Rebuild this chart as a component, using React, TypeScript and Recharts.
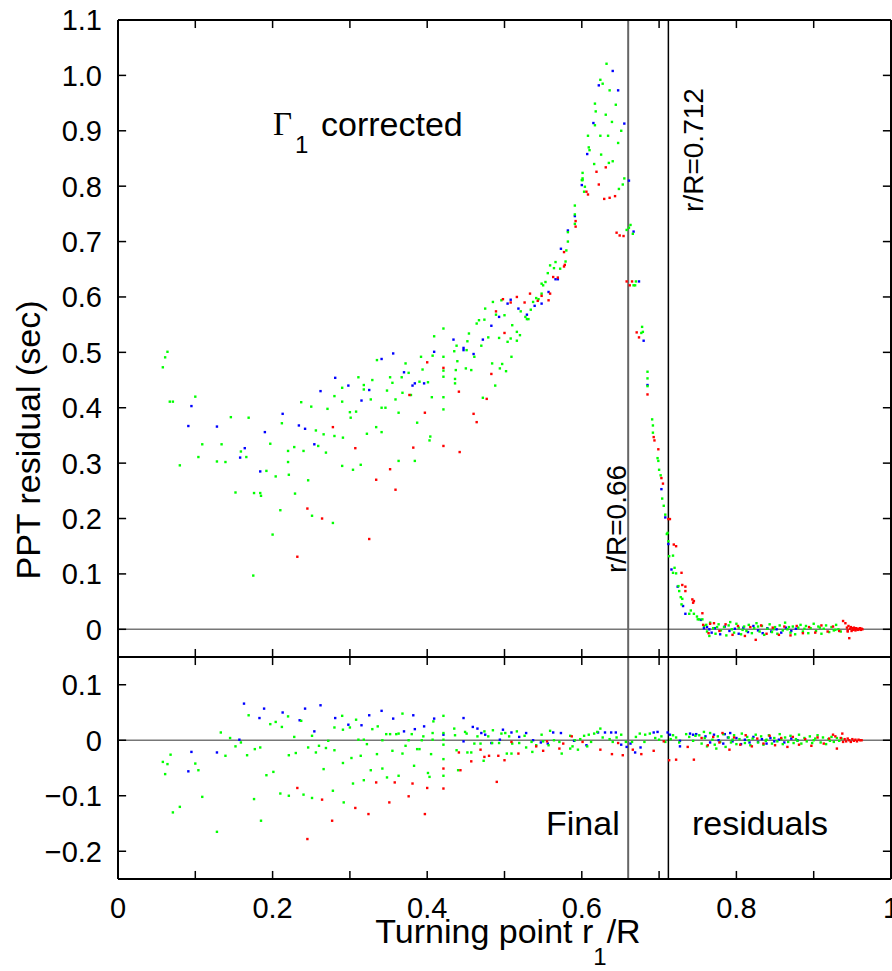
import { ScatterChart, Scatter, XAxis, YAxis, ReferenceLine } from 'recharts';

// [r1/R, residual] pairs
const topGreen: [number, number][] = [
  [0.058, 0.473], [0.061, 0.491], [0.064, 0.501], [0.067, 0.411], [0.071, 0.411], [0.1, 0.42], [0.08, 0.296], [0.109, 0.334],
  [0.104, 0.311], [0.128, 0.303], [0.134, 0.334], [0.139, 0.302], [0.146, 0.383], [0.152, 0.247], [0.159, 0.321], [0.166, 0.311],
  [0.169, 0.382], [0.175, 0.097], [0.176, 0.246], [0.184, 0.246], [0.185, 0.241], [0.192, 0.286], [0.197, 0.335], [0.2, 0.171],
  [0.204, 0.276], [0.21, 0.215], [0.212, 0.372], [0.22, 0.322], [0.22, 0.302], [0.221, 0.279], [0.228, 0.329], [0.229, 0.245],
  [0.237, 0.41], [0.24, 0.322], [0.246, 0.269], [0.25, 0.402], [0.251, 0.205], [0.256, 0.359], [0.259, 0.331], [0.269, 0.319],
  [0.266, 0.352], [0.271, 0.398], [0.278, 0.192], [0.28, 0.421], [0.28, 0.349], [0.29, 0.411], [0.29, 0.436], [0.29, 0.295],
  [0.291, 0.346], [0.3, 0.392], [0.301, 0.382], [0.304, 0.288], [0.308, 0.393], [0.311, 0.455], [0.314, 0.297], [0.318, 0.441],
  [0.318, 0.433], [0.322, 0.353], [0.327, 0.415], [0.329, 0.45], [0.334, 0.365], [0.335, 0.486], [0.341, 0.356], [0.341, 0.4],
  [0.346, 0.4], [0.348, 0.431], [0.352, 0.455], [0.355, 0.445], [0.359, 0.415], [0.363, 0.391], [0.363, 0.304], [0.367, 0.455],
  [0.368, 0.427], [0.372, 0.48], [0.376, 0.463], [0.379, 0.423], [0.384, 0.304], [0.387, 0.373], [0.39, 0.447], [0.392, 0.492],
  [0.394, 0.469], [0.401, 0.446], [0.403, 0.341], [0.404, 0.348], [0.406, 0.419], [0.407, 0.494], [0.409, 0.529], [0.421, 0.543],
  [0.421, 0.492], [0.421, 0.467], [0.421, 0.456], [0.421, 0.419], [0.421, 0.397], [0.435, 0.502], [0.436, 0.452], [0.436, 0.444],
  [0.437, 0.468], [0.439, 0.484], [0.438, 0.512], [0.451, 0.504], [0.452, 0.52], [0.454, 0.534], [0.45, 0.471], [0.457, 0.468],
  [0.461, 0.492], [0.464, 0.552], [0.467, 0.558], [0.474, 0.559], [0.47, 0.512], [0.472, 0.418], [0.475, 0.579], [0.479, 0.527],
  [0.484, 0.48], [0.485, 0.591], [0.488, 0.44], [0.489, 0.568], [0.493, 0.526], [0.494, 0.471], [0.496, 0.594], [0.497, 0.479],
  [0.5, 0.567], [0.502, 0.466], [0.504, 0.519], [0.508, 0.525], [0.509, 0.492], [0.51, 0.549], [0.516, 0.521], [0.516, 0.537],
  [0.52, 0.531], [0.521, 0.574], [0.527, 0.564], [0.529, 0.56], [0.531, 0.56], [0.534, 0.577], [0.537, 0.591], [0.541, 0.598],
  [0.544, 0.596], [0.548, 0.624], [0.55, 0.621], [0.553, 0.627], [0.556, 0.643], [0.559, 0.657], [0.564, 0.652], [0.566, 0.663],
  [0.548, 0.606], [0.591, 0.765], [0.591, 0.749], [0.591, 0.732], [0.582, 0.717], [0.582, 0.7], [0.58, 0.684], [0.579, 0.664],
  [0.572, 0.651], [0.6, 0.811], [0.604, 0.799], [0.603, 0.79], [0.632, 1.021], [0.624, 0.992], [0.627, 0.985], [0.636, 0.973],
  [0.617, 0.949], [0.644, 0.947], [0.618, 0.935], [0.631, 0.929], [0.617, 0.91], [0.639, 0.916], [0.651, 0.9], [0.608, 0.891],
  [0.624, 0.891], [0.634, 0.891], [0.647, 0.878], [0.609, 0.87], [0.61, 0.865], [0.625, 0.857], [0.616, 0.84], [0.635, 0.842],
  [0.64, 0.845], [0.601, 0.824], [0.601, 0.814], [0.601, 0.811], [0.653, 0.803], [0.655, 0.814], [0.648, 0.795], [0.658, 0.721],
  [0.661, 0.725], [0.663, 0.73], [0.666, 0.714], [0.667, 0.621], [0.669, 0.621], [0.67, 0.628], [0.678, 0.546], [0.677, 0.535],
  [0.679, 0.537], [0.685, 0.465], [0.685, 0.453], [0.685, 0.439], [0.691, 0.379], [0.692, 0.368], [0.692, 0.355], [0.698, 0.309],
  [0.699, 0.304], [0.7, 0.288], [0.702, 0.278], [0.704, 0.236], [0.706, 0.223], [0.708, 0.207], [0.711, 0.174], [0.71, 0.172],
  [0.712, 0.159], [0.713, 0.132], [0.718, 0.133], [0.72, 0.111], [0.718, 0.102], [0.722, 0.101], [0.725, 0.078], [0.726, 0.069],
  [0.728, 0.058], [0.73, 0.055], [0.729, 0.045], [0.741, 0.034], [0.739, 0.028], [0.745, 0.028], [0.749, 0.023], [0.75, 0.018],
  [0.752, 0.018], [0.756, 0.018], [0.761, 0.008],
  [0.758, 0.006], [0.762, -0.004], [0.766, 0.012], [0.77, 0.002], [0.773, -0.008], [0.777, 0.009], [0.78, -0.002], [0.784, 0.004],
  [0.787, -0.011], [0.79, 0.007], [0.794, 0.0], [0.797, -0.006], [0.8, 0.01], [0.803, 0.003], [0.806, -0.009], [0.81, 0.005],
  [0.813, -0.003], [0.816, 0.008], [0.82, -0.007], [0.823, 0.002], [0.826, 0.011], [0.83, -0.004], [0.833, 0.006], [0.836, -0.01],
  [0.84, 0.001], [0.843, 0.009], [0.846, -0.005], [0.85, 0.004], [0.853, -0.008], [0.856, 0.007], [0.86, -0.002], [0.863, 0.012],
  [0.866, 0.0], [0.87, -0.006], [0.873, 0.005], [0.876, -0.009], [0.88, 0.003], [0.883, 0.008], [0.886, -0.004], [0.89, 0.006],
  [0.893, -0.007], [0.896, 0.002], [0.9, 0.01], [0.903, -0.003], [0.906, 0.005], [0.91, -0.008], [0.913, 0.001], [0.916, 0.007],
  [0.92, -0.005], [0.923, 0.004], [0.926, -0.002], [0.929, 0.008], [0.932, 0.0], [0.935, -0.004], [0.765, -0.012], [0.775, 0.004],
  [0.792, 0.013], [0.808, -0.001], [0.828, 0.005], [0.848, 0.0], [0.868, 0.004], [0.888, 0.001], [0.908, 0.003], [0.928, -0.001],
];

const topBlue: [number, number][] = [
  [0.095, 0.403], [0.091, 0.367], [0.128, 0.366], [0.158, 0.31], [0.164, 0.327], [0.184, 0.285], [0.19, 0.356], [0.213, 0.389],
  [0.234, 0.368], [0.242, 0.362], [0.254, 0.334], [0.262, 0.43], [0.281, 0.454], [0.298, 0.44], [0.315, 0.413], [0.325, 0.432],
  [0.341, 0.488], [0.356, 0.498], [0.37, 0.464], [0.381, 0.44], [0.384, 0.444], [0.396, 0.444], [0.409, 0.501], [0.434, 0.523],
  [0.447, 0.504], [0.447, 0.508], [0.46, 0.497], [0.472, 0.523], [0.483, 0.548], [0.493, 0.564], [0.504, 0.588], [0.508, 0.595],
  [0.518, 0.579], [0.529, 0.568], [0.539, 0.584], [0.548, 0.588], [0.557, 0.609], [0.566, 0.632], [0.569, 0.632],
  [0.591, 0.746], [0.582, 0.72], [0.573, 0.687], [0.6, 0.802], [0.661, 0.81], [0.64, 1.008], [0.622, 0.982], [0.647, 0.973],
  [0.615, 0.914], [0.655, 0.913], [0.607, 0.858], [0.667, 0.718], [0.674, 0.628], [0.68, 0.521], [0.685, 0.441], [0.703, 0.253],
  [0.708, 0.202], [0.712, 0.154], [0.716, 0.108], [0.724, 0.077], [0.731, 0.042], [0.734, 0.028], [0.754, 0.017],
  [0.762, 0.004], [0.768, -0.006], [0.772, 0.002], [0.779, -0.009], [0.785, 0.005], [0.791, -0.003], [0.798, 0.001], [0.803, -0.008],
  [0.809, 0.003], [0.815, -0.005], [0.822, 0.006], [0.828, -0.002], [0.834, -0.007], [0.84, 0.002], [0.845, -0.004], [0.852, 0.0],
  [0.858, -0.006], [0.864, 0.003], [0.871, -0.003], [0.877, 0.001], [0.765, 0.0], [0.758, 0.002],
];

const topRed: [number, number][] = [
  [0.232, 0.131], [0.245, 0.218], [0.264, 0.2], [0.278, 0.365], [0.307, 0.327], [0.325, 0.163], [0.334, 0.27], [0.352, 0.289],
  [0.359, 0.252], [0.377, 0.423], [0.382, 0.328], [0.397, 0.391], [0.4, 0.482], [0.421, 0.331], [0.421, 0.472], [0.441, 0.429],
  [0.442, 0.32], [0.46, 0.389], [0.464, 0.374], [0.477, 0.416], [0.483, 0.461], [0.489, 0.574], [0.498, 0.596], [0.5, 0.535],
  [0.508, 0.59], [0.516, 0.6], [0.526, 0.59], [0.533, 0.606], [0.543, 0.593], [0.548, 0.602], [0.557, 0.594], [0.559, 0.606],
  [0.563, 0.636], [0.569, 0.635], [0.592, 0.737], [0.592, 0.727], [0.577, 0.681], [0.578, 0.658], [0.577, 0.655], [0.606, 0.79],
  [0.608, 0.785], [0.622, 0.803], [0.629, 0.777], [0.636, 0.779], [0.643, 0.782], [0.619, 0.826], [0.631, 0.834], [0.645, 0.716],
  [0.649, 0.711], [0.654, 0.71], [0.658, 0.628], [0.665, 0.628], [0.662, 0.621], [0.671, 0.536], [0.674, 0.527], [0.685, 0.424],
  [0.693, 0.347], [0.694, 0.341], [0.699, 0.325], [0.703, 0.273], [0.705, 0.263], [0.712, 0.199], [0.714, 0.199], [0.719, 0.153],
  [0.722, 0.15], [0.729, 0.102], [0.73, 0.08], [0.734, 0.077], [0.734, 0.069], [0.743, 0.054], [0.745, 0.051], [0.744, 0.048],
  [0.756, 0.029], [0.766, 0.01],
  [0.757, 0.008], [0.764, -0.007], [0.771, 0.011], [0.778, -0.003], [0.786, 0.009], [0.795, -0.01], [0.802, 0.006], [0.811, -0.012],
  [0.818, 0.004], [0.825, -0.019], [0.832, 0.007], [0.839, -0.008], [0.847, 0.003], [0.855, -0.01], [0.862, 0.005], [0.87, -0.011],
  [0.878, 0.006], [0.886, -0.007], [0.894, 0.004], [0.902, -0.006], [0.91, 0.007], [0.918, -0.004], [0.925, 0.005], [0.933, -0.003],
  [0.938, 0.015], [0.941, 0.011], [0.943, 0.003], [0.944, -0.002], [0.946, -0.016], [0.947, 0.001], [0.948, 0.004], [0.949, -0.003],
  [0.95, 0.002], [0.951, -0.001], [0.952, 0.003], [0.953, 0.0], [0.954, -0.002], [0.955, 0.002], [0.956, 0.0], [0.957, -0.001],
  [0.958, 0.001], [0.959, 0.0], [0.96, 0.002], [0.961, -0.001], [0.962, 0.001], [0.963, 0.0], [0.945, 0.006], [0.944, -0.004],
];

const botGreen: [number, number][] = [
  [0.058, -0.039], [0.061, -0.061], [0.064, -0.043], [0.068, -0.026], [0.071, -0.13], [0.08, -0.12], [0.1, -0.042], [0.104, -0.054],
  [0.109, -0.102], [0.128, -0.165], [0.133, 0.014], [0.139, -0.028], [0.145, 0.004], [0.152, -0.011], [0.159, -0.004], [0.167, -0.027],
  [0.169, 0.045], [0.176, -0.106], [0.177, -0.016], [0.184, -0.013], [0.185, -0.145], [0.192, -0.063], [0.197, 0.029], [0.201, -0.057],
  [0.204, 0.033], [0.21, -0.096], [0.212, 0.024], [0.221, -0.1], [0.22, 0.043], [0.221, -0.027], [0.228, 0.006], [0.23, -0.023],
  [0.237, 0.035], [0.24, -0.098], [0.246, -0.013], [0.251, 0.008], [0.251, -0.104], [0.256, -0.022], [0.26, -0.01], [0.266, -0.052],
  [0.269, -0.014], [0.272, -0.001], [0.278, -0.091], [0.28, -0.018], [0.28, 0.023], [0.29, 0.044], [0.291, 0.019], [0.291, -0.041],
  [0.292, -0.112], [0.3, 0.023], [0.302, -0.032], [0.304, -0.078], [0.308, 0.037], [0.311, 0.001], [0.314, -0.028], [0.318, -0.072],
  [0.318, 0.001], [0.322, -0.007], [0.327, -0.054], [0.329, 0.02], [0.335, -0.025], [0.336, 0.025], [0.342, -0.051], [0.342, 0.0],
  [0.347, 0.011], [0.348, -0.067], [0.352, 0.011], [0.355, -0.019], [0.36, 0.011], [0.363, -0.064], [0.363, 0.012], [0.368, 0.048],
  [0.368, -0.024], [0.372, -0.01], [0.376, 0.0], [0.38, 0.011], [0.383, -0.046], [0.387, -0.016], [0.39, -0.016], [0.393, 0.0],
  [0.395, 0.007], [0.401, -0.059], [0.403, -0.066], [0.405, -0.025], [0.407, 0.013], [0.408, 0.034], [0.407, 0.001], [0.421, 0.044],
  [0.421, 0.013], [0.421, 0.001], [0.421, -0.008], [0.421, -0.034], [0.421, -0.064],
  [0.435, 0.021], [0.436, 0.009], [0.438, -0.018], [0.44, -0.054], [0.449, 0.015], [0.451, 0.012], [0.452, -0.022], [0.457, -0.022],
  [0.461, -0.006], [0.465, 0.007], [0.469, -0.006], [0.473, -0.037], [0.474, 0.016], [0.479, 0.007], [0.484, -0.005], [0.485, 0.018],
  [0.493, -0.005], [0.496, 0.012], [0.501, 0.013], [0.503, -0.024], [0.506, 0.007], [0.51, -0.006], [0.509, -0.024], [0.516, 0.016],
  [0.519, -0.005], [0.526, 0.008], [0.528, -0.013], [0.535, -0.003], [0.536, -0.021], [0.541, -0.009], [0.548, 0.01], [0.55, -0.002],
  [0.557, -0.009], [0.559, 0.017], [0.564, 0.0], [0.571, -0.003], [0.574, -0.024], [0.585, 0.008], [0.585, -0.015], [0.588, -0.011],
  [0.591, 0.0], [0.595, -0.017], [0.598, 0.002], [0.603, 0.008], [0.607, -0.011], [0.609, 0.01], [0.612, -0.003], [0.616, 0.012],
  [0.62, 0.015], [0.624, 0.021], [0.627, 0.005], [0.636, 0.002], [0.64, -0.003], [0.645, 0.005], [0.651, 0.01], [0.657, -0.003],
  [0.665, -0.003], [0.67, 0.006], [0.675, 0.012], [0.681, -0.003], [0.682, 0.01], [0.688, 0.012], [0.695, 0.004], [0.7, 0.001],
  [0.703, 0.007], [0.708, -0.003], [0.715, 0.002], [0.718, 0.009], [0.722, 0.005], [0.726, -0.004], [0.735, 0.011], [0.739, 0.006],
  [0.744, -0.001], [0.747, 0.008],
  [0.752, 0.009], [0.755, -0.006], [0.759, 0.004], [0.762, -0.011], [0.766, 0.013], [0.769, 0.001], [0.772, -0.008], [0.776, 0.007],
  [0.779, -0.003], [0.783, 0.011], [0.786, -0.012], [0.79, 0.005], [0.793, -0.004], [0.797, 0.009], [0.8, -0.007], [0.804, 0.002],
  [0.807, 0.012], [0.811, -0.005], [0.814, 0.006], [0.818, -0.009], [0.821, 0.003], [0.825, 0.01], [0.828, -0.004], [0.832, 0.007],
  [0.835, -0.008], [0.839, 0.001], [0.842, 0.009], [0.846, -0.006], [0.849, 0.004], [0.853, -0.002], [0.856, 0.011], [0.86, -0.007],
  [0.863, 0.005], [0.867, -0.003], [0.87, 0.008], [0.874, -0.005], [0.877, 0.002], [0.881, 0.01], [0.884, -0.006], [0.888, 0.004],
  [0.891, -0.002], [0.895, 0.007], [0.898, -0.005], [0.902, 0.003], [0.905, 0.009], [0.909, -0.004], [0.912, 0.005], [0.916, -0.007],
  [0.919, 0.002], [0.923, 0.006], [0.926, -0.003], [0.93, 0.004], [0.933, -0.001], [0.936, 0.003], [0.758, 0.015], [0.774, -0.015],
  [0.795, 0.001], [0.816, 0.0], [0.838, -0.001], [0.858, 0.002], [0.879, -0.001], [0.9, 0.0], [0.921, -0.001],
];

const botBlue: [number, number][] = [
  [0.091, -0.056], [0.095, -0.021], [0.128, -0.022], [0.157, 0.001], [0.163, 0.066], [0.183, 0.04], [0.189, 0.057], [0.213, 0.05],
  [0.235, 0.036], [0.242, 0.057], [0.254, 0.016], [0.262, 0.063], [0.281, 0.04], [0.298, 0.028], [0.315, 0.027], [0.325, 0.045],
  [0.341, 0.053], [0.356, 0.039], [0.37, 0.016], [0.382, 0.045], [0.384, 0.02], [0.396, 0.025], [0.409, 0.039], [0.421, 0.01],
  [0.447, 0.04], [0.447, -0.002], [0.459, 0.024], [0.465, 0.021], [0.47, 0.013], [0.475, 0.01], [0.483, -0.005], [0.494, 0.001],
  [0.498, 0.019], [0.509, 0.014], [0.519, 0.006], [0.528, 0.013], [0.537, 0.0], [0.547, -0.004], [0.556, -0.006], [0.563, 0.014],
  [0.573, 0.013], [0.59, -0.001], [0.606, -0.009], [0.621, 0.014], [0.63, 0.014], [0.638, 0.014], [0.644, 0.014], [0.651, -0.008],
  [0.658, -0.012], [0.663, -0.006], [0.669, -0.022], [0.676, -0.013], [0.693, 0.014], [0.698, 0.015], [0.711, 0.014], [0.714, 0.01],
  [0.727, -0.001], [0.727, -0.011], [0.74, 0.012], [0.744, 0.01], [0.748, 0.011],
  [0.76, 0.007], [0.766, -0.004], [0.771, 0.01], [0.777, 0.0], [0.783, -0.006], [0.789, 0.005], [0.795, -0.002], [0.8, 0.004],
  [0.806, -0.007], [0.811, 0.001], [0.817, -0.004], [0.822, 0.006], [0.828, -0.003], [0.833, 0.002], [0.839, -0.006], [0.844, 0.004],
  [0.849, -0.002], [0.855, 0.001], [0.862, -0.004], [0.871, 0.003], [0.879, 0.0], [0.792, 0.013], [0.785, 0.011],
];

const botRed: [number, number][] = [
  [0.232, -0.086], [0.245, -0.178], [0.264, -0.107], [0.277, -0.145], [0.307, -0.122], [0.324, -0.133], [0.334, -0.076], [0.351, -0.112],
  [0.358, -0.076], [0.376, -0.101], [0.381, -0.078], [0.397, -0.133], [0.4, -0.086], [0.421, -0.051], [0.421, -0.087],
  [0.441, -0.022], [0.443, -0.054], [0.457, -0.038], [0.469, -0.017], [0.474, -0.03], [0.48, -0.028], [0.49, -0.075], [0.492, -0.028],
  [0.5, -0.036], [0.509, -0.003], [0.518, -0.024], [0.541, -0.011], [0.55, -0.019], [0.555, -0.002], [0.571, -0.015], [0.576, -0.006],
  [0.587, 0.007], [0.601, -0.003], [0.624, -0.017], [0.639, -0.025], [0.647, -0.005], [0.653, -0.027], [0.666, -0.017], [0.677, -0.025],
  [0.693, -0.019], [0.706, -0.002], [0.713, -0.036], [0.722, -0.035], [0.737, -0.012], [0.745, -0.035],
  [0.755, 0.004], [0.763, -0.009], [0.77, 0.006], [0.778, -0.004], [0.782, 0.013], [0.791, -0.017], [0.797, 0.005], [0.805, -0.008],
  [0.812, 0.009], [0.82, -0.011], [0.827, 0.003], [0.835, -0.006], [0.843, 0.008], [0.85, -0.009], [0.858, 0.004], [0.866, -0.012],
  [0.873, 0.006], [0.881, -0.008], [0.889, 0.002], [0.897, -0.01], [0.905, 0.005], [0.913, -0.006], [0.92, 0.003], [0.925, 0.01],
  [0.93, -0.015], [0.928, 0.007], [0.935, 0.004], [0.938, -0.003], [0.94, 0.002], [0.942, -0.002], [0.944, 0.003], [0.946, 0.0],
  [0.948, -0.003], [0.95, 0.002], [0.952, -0.001], [0.954, 0.001], [0.956, -0.002], [0.958, 0.001], [0.96, 0.0], [0.962, 0.0],
  [0.937, 0.012],
];

const xTickLabels = [0, 0.2, 0.4, 0.6, 0.8, 1];
const xMinorTicks = [0.1, 0.2, 0.3, 0.4, 0.5, 0.6, 0.7, 0.8, 0.9];
const topYTicks = [0, 0.1, 0.2, 0.3, 0.4, 0.5, 0.6, 0.7, 0.8, 0.9, 1.0, 1.1];
const botYTicks = [-0.2, -0.1, 0, 0.1];
const cuts = [0.66, 0.712];

const TOP_DOMAIN: [number, number] = [-0.05, 1.1];
const BOT_DOMAIN: [number, number] = [-0.25, 0.15];
const FONT = '"Liberation Sans", Arial, Helvetica, sans-serif';

const toPts = (arr: [number, number][]) => arr.map(([x, y]) => ({ x, y }));

const fmtY = (v: number) => {
  if (Math.abs(v) < 1e-9) return '0';
  const s = Math.abs(v).toFixed(1);
  return v < 0 ? '\u2212' + s : s;
};
const fmtX = (v: number) => (v === 0 ? '0' : v === 1 ? '1' : v.toFixed(1));

const dot = (color: string) => (p: any) => (
  <rect x={p.cx - 1.2} y={p.cy - 1.2} width={2.4} height={2.4} fill={color} />
);

const YTick = (p: any) => (
  <text x={p.x} y={p.y} dy="0.36em" textAnchor="end" fontSize={29} fontFamily={FONT} fill="#000">
    {fmtY(p.payload.value)}
  </text>
);

const XTick = (p: any) => (
  <text x={p.x} y={p.y} dy="0.71em" textAnchor="middle" fontSize={29} fontFamily={FONT} fill="#000">
    {fmtX(p.payload.value)}
  </text>
);

// inward tick marks + top/right frame, drawn in data space
function frame(domain: [number, number], yTicks: number[]) {
  const [y0, y1] = domain;
  const dy = 0.0145;
  const dx = 0.0105;
  const els: any[] = [];
  xMinorTicks.forEach((v) => {
    els.push(<ReferenceLine key={'xb' + v} segment={[{ x: v, y: y0 }, { x: v, y: y0 + dy }]} stroke="#000" strokeWidth={1.5} ifOverflow="visible" />);
    els.push(<ReferenceLine key={'xt' + v} segment={[{ x: v, y: y1 }, { x: v, y: y1 - dy }]} stroke="#000" strokeWidth={1.5} ifOverflow="visible" />);
  });
  yTicks.forEach((v) => {
    els.push(<ReferenceLine key={'yl' + v} segment={[{ x: 0, y: v }, { x: dx, y: v }]} stroke="#000" strokeWidth={1.5} ifOverflow="visible" />);
    els.push(<ReferenceLine key={'yr' + v} segment={[{ x: 1, y: v }, { x: 1 - dx, y: v }]} stroke="#000" strokeWidth={1.5} ifOverflow="visible" />);
  });
  els.push(<ReferenceLine key="top" y={y1} stroke="#000" strokeWidth={2} ifOverflow="visible" />);
  els.push(<ReferenceLine key="right" x={1} stroke="#000" strokeWidth={2} ifOverflow="visible" />);
  return els;
}

function guides() {
  return [
    <ReferenceLine key="zero" y={0} stroke="#777" strokeWidth={1.5} ifOverflow="visible" />,
    <ReferenceLine key="c0" x={cuts[0]} stroke="#666" strokeWidth={2} ifOverflow="visible" />,
    <ReferenceLine key="c1" x={cuts[1]} stroke="#000" strokeWidth={1.5} ifOverflow="visible" />,
  ];
}

function series(blue: [number, number][], green: [number, number][], red: [number, number][]) {
  return [
    <Scatter key="b" data={toPts(blue)} shape={dot('#0000ff')} isAnimationActive={false} />,
    <Scatter key="g" data={toPts(green)} shape={dot('#00ff00')} isAnimationActive={false} />,
    <Scatter key="r" data={toPts(red)} shape={dot('#ff0000')} isAnimationActive={false} />,
  ];
}

export default function App() {
  return (
    <div style={{ position: 'absolute', left: 0, top: 0, width: 892, height: 971, overflow: 'hidden', background: '#fff' }}>
      <div style={{ position: 'absolute', left: 0, top: 0 }}>
        <ScatterChart width={892} height={660} margin={{ top: 20, right: 1, left: 48, bottom: 3 }}>
          <XAxis type="number" dataKey="x" domain={[0, 1]} hide allowDataOverflow />
          <YAxis
            type="number"
            dataKey="y"
            domain={TOP_DOMAIN}
            ticks={topYTicks}
            interval={0}
            allowDataOverflow
            width={70}
            tickSize={0}
            tickMargin={16}
            tickLine={false}
            axisLine={{ stroke: '#000', strokeWidth: 2 }}
            tick={YTick}
          />
          {guides()}
          {series(topBlue, topGreen, topRed)}
          {frame(TOP_DOMAIN, topYTicks)}
          <ReferenceLine y={TOP_DOMAIN[0]} stroke="#000" strokeWidth={2} ifOverflow="visible" />
        </ScatterChart>
      </div>
      <div style={{ position: 'absolute', left: 0, top: 640 }}>
        <ScatterChart width={892} height={331} margin={{ top: 17, right: 1, left: 48, bottom: 52 }}>
          <XAxis
            type="number"
            dataKey="x"
            domain={[0, 1]}
            ticks={xTickLabels}
            interval={0}
            allowDataOverflow
            height={40}
            tickSize={0}
            tickMargin={18}
            tickLine={false}
            axisLine={{ stroke: '#000', strokeWidth: 2 }}
            tick={XTick}
          />
          <YAxis
            type="number"
            dataKey="y"
            domain={BOT_DOMAIN}
            ticks={botYTicks}
            interval={0}
            allowDataOverflow
            width={70}
            tickSize={0}
            tickMargin={16}
            tickLine={false}
            axisLine={{ stroke: '#000', strokeWidth: 2 }}
            tick={YTick}
          />
          {guides()}
          {series(botBlue, botGreen, botRed)}
          {frame(BOT_DOMAIN, botYTicks)}
        </ScatterChart>
      </div>
      <svg width={892} height={971} style={{ position: 'absolute', left: 0, top: 0, pointerEvents: 'none' }} fontFamily={FONT}>
        <text transform="translate(40,440) rotate(-90)" textAnchor="middle" fontSize={34}>PPT residual (sec)</text>
        <text x={508} y={943} textAnchor="middle" fontSize={34}>
          Turning point r<tspan dy={22} fontSize={24}>1</tspan><tspan dy={-22}>/R</tspan>
        </text>
        <text x={273} y={135} fontSize={33} fontFamily='"Liberation Serif", "Times New Roman", serif'>Γ</text>
        <text x={295} y={153} fontSize={24}>1</text>
        <text x={321} y={136} fontSize={34}>corrected</text>
        <text x={546} y={835} fontSize={34}>Final</text>
        <text x={692} y={835} fontSize={34}>residuals</text>
        <text transform="translate(626,519) rotate(-90)" textAnchor="middle" fontSize={28}>r/R=0.66</text>
        <text transform="translate(703,150) rotate(-90)" textAnchor="middle" fontSize={28}>r/R=0.712</text>
      </svg>
    </div>
  );
}
